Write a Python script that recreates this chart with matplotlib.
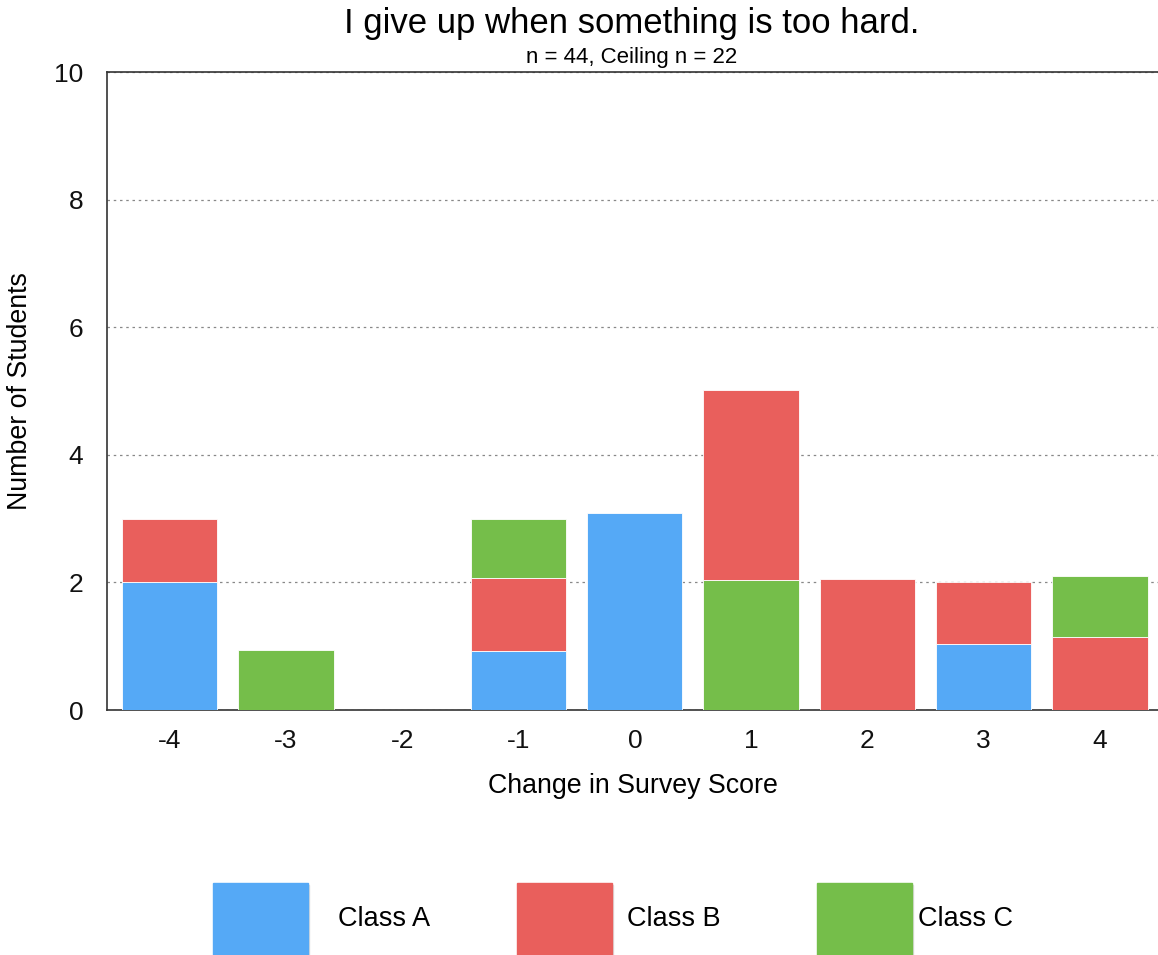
import matplotlib
matplotlib.use("Agg")
import matplotlib.pyplot as plt
from matplotlib.patches import Rectangle
import numpy as np

plt.rcParams['font.family'] = ['Liberation Sans', 'DejaVu Sans']

categories = [-4, -3, -2, -1, 0, 1, 2, 3, 4]
class_a = [2.01, 0, 0, 0.92, 3.08, 0, 0, 1.03, 0]
class_b = [0.98, 0, 0, 1.15, 0, 2.98, 2.05, 0.98, 1.14]
class_c = [0, 0.945, 0, 0.92, 0, 2.04, 0, 0, 0.96]
series_names = ["Class A", "Class B", "Class C"]
colors = ["#55A9F6", "#E95F5C", "#75BE4A"]

title = "I give up when something is too hard."
subtitle = "n = 44, Ceiling n = 22"

fig = plt.figure(figsize=(11.58, 9.55), dpi=100)
ax = fig.add_axes([107/1158, 1-710/955, 1-107/1158, (710-72)/955])

x = np.array(categories, dtype=float)
series = [np.array(class_a), np.array(class_b), np.array(class_c)]
orders = [[0, 1, 2]] * len(x)
orders = list(orders)
orders[5] = [2, 1, 0]  # at 1: green bottom, red top
for i in range(len(x)):
    b = 0.0
    for s in orders[i]:
        v = series[s][i]
        if v > 0:
            ax.bar(x[i], v, bottom=b, width=0.82, color=colors[s],
                   edgecolor="#ffffff", linewidth=0.6, zorder=3)
        b += v

ax.set_xlim(-4.54, 4.5)
ax.set_ylim(0, 10)
ax.set_yticks([0, 2, 4, 6, 8, 10])
ax.set_xticks(categories)
ax.set_xticklabels([str(c) for c in categories])
ax.tick_params(axis='both', length=0, labelsize=19, colors="#111111")
ax.tick_params(axis='y', pad=17)
ax.tick_params(axis='x', pad=14)
ax.yaxis.grid(True, linestyle=(0, (2, 3)), color="#888888", linewidth=0.9, zorder=0)
ax.set_axisbelow(True)
for side in ["left", "top", "bottom"]:
    ax.spines[side].set_color("#333333")
    ax.spines[side].set_linewidth(1.2)
ax.spines["right"].set_visible(False)

ax.set_xlabel("Change in Survey Score", fontsize=19.3, labelpad=14)
ax.set_ylabel("Number of Students", fontsize=19.3, labelpad=15)

fig.text(632/1158, 1-23/955, title, ha="center", va="center", fontsize=25)
fig.text(632/1158, 1-58/955, subtitle, ha="center", va="center", fontsize=16)

# legend
leg_boxes = [213, 517, 817]
leg_text = [338, 627, 918]
for px, tx, name, col in zip(leg_boxes, leg_text, series_names, colors):
    fig.add_artist(Rectangle((px/1158 + 0.0012, 1-960/955 - 0.002), 95/1158, 77/955,
                             transform=fig.transFigure, color="#dddddd", zorder=1))
    fig.add_artist(Rectangle((px/1158, 1-960/955), 95/1158, 77/955,
                             transform=fig.transFigure, color=col, zorder=2))
    fig.text(tx/1158, 1-919/955, name, ha="left", va="center", fontsize=19.5)

fig.savefig("out.png", dpi=100)
